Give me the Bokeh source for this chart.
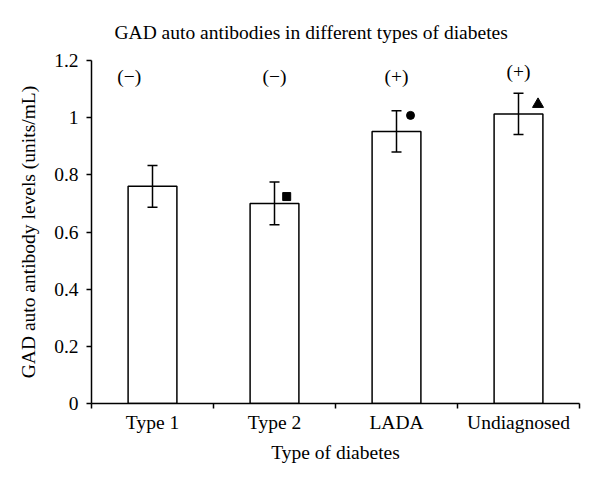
from bokeh.plotting import figure
from bokeh.models import (ColumnDataSource, Range1d, FixedTicker, Whisker, TeeHead, Title)
from bokeh.core.properties import value
from bokeh.embed import file_html
from bokeh.resources import INLINE

# ---- data ----
categories = ["Type 1", "Type 2", "LADA", "Undiagnosed"]
means = [0.76, 0.70, 0.952, 1.013]
errors = [0.073, 0.075, 0.072, 0.072]
signs = ["(\u2212)", "(\u2212)", "(+)", "(+)"]
sign_levels = [1.145, 1.145, 1.145, 1.162]
marker_cats = ["Type 2", "LADA", "Undiagnosed"]
marker_values = [0.724, 1.008, 1.047]
marker_types = ["square", "circle", "triangle"]
y_ticks = [0, 0.2, 0.4, 0.6, 0.8, 1.0, 1.2]
y_tick_labels = ["0", "0.2", "0.4", "0.6", "0.8", "1", "1.2"]

FONT = "Liberation Serif"
FS = "19.5px"

centers = [i + 0.5 for i in range(len(categories))]
src = ColumnDataSource(dict(
    x=centers, top=means,
    upper=[m + e for m, e in zip(means, errors)],
    lower=[m - e for m, e in zip(means, errors)],
))

p = figure(width=584, height=467, output_backend="svg", toolbar_location=None,
           x_range=Range1d(0, len(categories)), y_range=Range1d(0, 1.2),
           min_border_left=91, min_border_right=5, min_border_top=60, min_border_bottom=64)
p.outline_line_color = None
p.grid.visible = False
p.background_fill_color = "white"

t = Title(text="GAD auto antibodies in different types of diabetes", align="left",
          text_font=FONT, text_font_size=FS, text_font_style="normal", text_color="black",
          standoff=35, offset=23)
p.add_layout(t, "above")

p.vbar(x="x", top="top", width=0.4, source=src, fill_color="white",
       line_color="black", line_width=1.5)

w = Whisker(base="x", upper="upper", lower="lower", source=src, level="overlay",
            line_color="black", line_width=1.5,
            upper_head=TeeHead(size=10, line_color="black", line_width=1.5),
            lower_head=TeeHead(size=10, line_color="black", line_width=1.5))
p.add_layout(w)

# significance markers, drawn just right of the error bars
offsets = {"square": 0.1, "circle": 0.115, "triangle": 0.16}
sizes = {"square": 8, "circle": 8, "triangle": 11}
for cat, val, mk in zip(marker_cats, marker_values, marker_types):
    xi = categories.index(cat) + 0.5 + offsets[mk]
    p.scatter([xi], [val], marker=mk, size=sizes[mk], fill_color="black", line_color="black")

# sign labels
sign_shift = [-0.19, 0.0, 0.0, 0.0]
p.text(x=[c + s for c, s in zip(centers, sign_shift)], y=sign_levels, text=signs,
       text_font=value(FONT), text_font_size=FS, text_align="center",
       text_baseline="middle", text_color="black")

# axes
xa = p.xaxis[0]
xa.ticker = FixedTicker(ticks=centers, minor_ticks=list(range(len(categories) + 1)))
xa.major_label_overrides = {c: lab for c, lab in zip(centers, categories)}
xa.major_tick_out = 0
xa.major_tick_in = 0
xa.minor_tick_out = 5
xa.minor_tick_in = 0
xa.minor_tick_line_color = "black"
xa.minor_tick_line_width = 1.5
xa.axis_label = "Type of diabetes"
xa.major_label_standoff = 3
xa.axis_label_standoff = 6

ya = p.yaxis[0]
ya.ticker = FixedTicker(ticks=y_ticks, minor_ticks=[])
ya.major_label_overrides = {t_: lab for t_, lab in zip(y_ticks, y_tick_labels)}
ya.major_tick_out = 5
ya.major_tick_in = 0
ya.major_tick_line_width = 1.5
ya.axis_label = "GAD auto antibody levels (units/mL)"
ya.major_label_standoff = 8
ya.axis_label_standoff = 12

for ax in (xa, ya):
    ax.axis_line_color = "black"
    ax.axis_line_width = 1.5
    ax.major_tick_line_color = "black"
    ax.major_label_text_font = FONT
    ax.major_label_text_font_size = FS
    ax.major_label_text_color = "black"
    ax.axis_label_text_font = FONT
    ax.axis_label_text_font_size = FS
    ax.axis_label_text_font_style = "normal"
    ax.axis_label_text_color = "black"

open("out.html", "w").write(file_html(p, INLINE))
